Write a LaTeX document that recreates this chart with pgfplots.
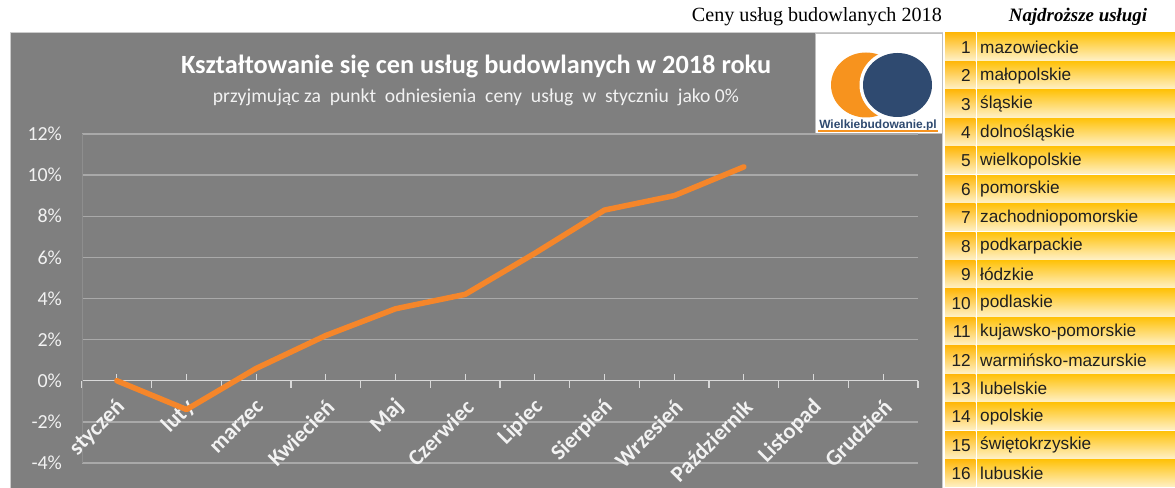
\documentclass[border=0pt]{standalone}
\usepackage{fontspec}
\setmainfont{Carlito}
\newfontfamily\arialf{Liberation Sans}
\newfontfamily\timesf{Liberation Serif}
\usepackage{pgfplots}
\pgfplotsset{compat=1.18}
\definecolor{chartbg}{HTML}{7F7F7F}
\definecolor{gridc}{HTML}{A9A9A9}
\definecolor{xaxisc}{HTML}{D9D9D9}
\definecolor{yaxisc}{HTML}{8E8E8E}
\definecolor{lineor}{HTML}{F5862A}
\definecolor{lbl}{HTML}{F2F2F2}
\definecolor{logonavy}{HTML}{2F4A70}
\definecolor{logoor}{HTML}{F7931E}
\definecolor{rowtop}{HTML}{FFC20A}
\definecolor{rowbot}{HTML}{FFF0C4}
\definecolor{numtop}{HTML}{FFB70A}
\begin{document}
\begin{tikzpicture}[x=1bp,y=1bp]
\useasboundingbox (0,0) rectangle (1175,488);
\fill[white] (0,0) rectangle (1175,488);
% chart background
\fill[chartbg] (10,0) rectangle (942,455);
\draw[line width=1bp, color=gray!40] (10,0) -- (10,455) -- (942,455) -- (942,0);
% header texts
\node[font=\timesf\fontsize{20.2}{22}\selectfont, anchor=east, inner sep=0pt] at (942,471) {Ceny usług budowlanych 2018};
\node[font=\timesf\bfseries\itshape\fontsize{19}{20}\selectfont, inner sep=0pt] at (1078,471) {Najdroższe usługi};
% table
\foreach \i/\n in {1/mazowieckie,2/małopolskie,3/śląskie,4/dolnośląskie,5/wielkopolskie,6/pomorskie,7/zachodniopomorskie,8/podkarpackie,9/łódzkie,10/podlaskie,11/kujawsko-pomorskie,12/warmińsko-mazurskie,13/lubelskie,14/opolskie,15/świętokrzyskie,16/lubuskie}{
  \pgfmathsetmacro\yt{455-(\i-1)*28.44}
  \pgfmathsetmacro\yb{\yt-27.2}
  \pgfmathsetmacro\ym{\yt-14.2}
  \shade[top color=numtop, bottom color=rowbot] (945,\yb) rectangle (975.5,\yt);
  \shade[top color=rowtop, bottom color=rowbot] (977,\yb) rectangle (1175,\yt);
  \node[font=\arialf\fontsize{17.3}{18}\selectfont, anchor=east, inner sep=0pt, text=black!88] at (971,\ym) {\i};
  \node[font=\arialf\fontsize{17.3}{18}\selectfont, anchor=west, inner sep=0pt, text=black!88] at (980,\ym) {\n};
}
% titles
\node[font=\bfseries\fontsize{26.4}{28}\selectfont, text=white] at (476,421) {Kształtowanie się cen usług budowlanych w 2018 roku};
\node[font=\fontsize{19.7}{21}\selectfont, text=lbl] at (476,391) {przyjmując za\ \ punkt\ \ odniesienia\ \ ceny\ \ usług\ \ w\ \ styczniu\ \ jako 0\%};
% logo
\fill[white] (815,355) rectangle (942,455);
\draw[gray!50, line width=0.8bp] (815,355) rectangle (942,455);
\fill[logoor] (866,403) ellipse [x radius=35, y radius=32.5];
\fill[white] (897.5,403) ellipse [x radius=38, y radius=35.5];
\fill[logonavy] (897.5,403) ellipse [x radius=34.5, y radius=32];
\node[font=\arialf\bfseries\fontsize{12}{13}\selectfont, text=logonavy, inner sep=0pt] at (878,363) {Wielkiebudowanie.pl};
\draw[logoor, line width=1.5bp] (818,357) -- (938,357);
\begin{axis}[
  at={(82bp,25bp)}, anchor=south west,
  scale only axis, width=836bp, height=329bp,
  xmin=0, xmax=12, ymin=-4, ymax=12,
  axis x line*=middle, axis y line*=left,
  x axis line style={color=xaxisc, line width=1.5bp, -},
  y axis line style={color=yaxisc, line width=1bp, -},
  ymajorgrids, grid style={color=gridc, line width=1.3bp},
  ytick={-4,-2,0,2,4,6,8,10,12},
  yticklabels={-4\%,-2\%,0\%,2\%,4\%,6\%,8\%,10\%,12\%},
  yticklabel style={font=\fontsize{20}{22}\selectfont, text=lbl, anchor=east, xshift=-13bp},
  major y tick style={draw=none},
  xtick={0.5,1.5,...,11.5},
  xticklabels={styczeń,luty,marzec,Kwiecień,Maj,Czerwiec,Lipiec,Sierpień,Wrzesień,Październik,Listopad,Grudzień},
  minor xtick={0,1,...,12},
  tick align=center,
  major tick length=7bp, minor tick length=7bp,
  major x tick style={color=xaxisc, line width=1.3bp, yshift=3.5bp},
  minor x tick style={color=xaxisc, line width=1.3bp, yshift=-3.5bp},
  xticklabel style={font=\bfseries\fontsize{22.5}{24}\selectfont, text=lbl, rotate=45, anchor=east, xshift=-7bp, yshift=-17bp},
  clip=false,
]
\addplot[color=lineor, line width=5.5bp, line join=round, line cap=round] coordinates {
  (0.5,0) (1.5,-1.4) (2.5,0.6) (3.5,2.2) (4.5,3.5) (5.5,4.2) (6.5,6.2) (7.5,8.3) (8.5,9.0) (9.5,10.4)
};
\end{axis}
\end{tikzpicture}
\end{document}
